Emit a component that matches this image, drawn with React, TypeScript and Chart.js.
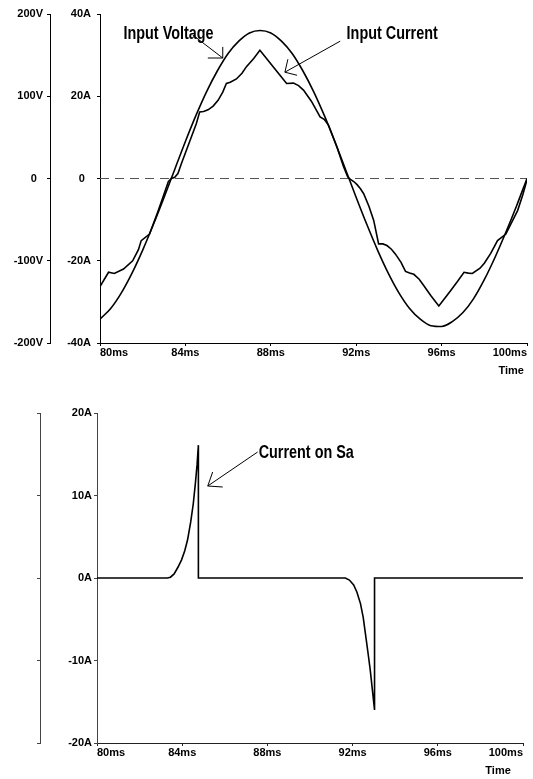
import React, { useEffect, useRef } from 'react';
import { Chart, registerables } from 'chart.js';

Chart.register(...registerables);

const SANS = '"Liberation Sans", Arial, Helvetica, sans-serif';

// ---------- top panel data ----------
const timeTicks = [80, 84, 88, 92, 96, 100];
const voltageTicks = [-200, -100, 0, 100, 200];
const voltageTickLabels = ['-200V', '-100V', '0  ', '100V', '200V'];
const currentTicks = [-40, -20, 0, 20, 40];
const currentTickLabels = ['-40A', '-20A', '0  ', '20A', '40A'];

const voltageTimes = [80, 80.5, 81, 81.5, 82, 82.5, 83, 83.5, 84, 84.5, 85, 85.5, 86, 86.5, 87, 87.5, 88, 88.5, 89, 89.5, 90, 90.5, 91, 91.5, 92, 92.5, 93, 93.5, 94, 94.5, 95, 95.5, 96, 96.5, 97, 97.5, 98, 98.5, 99, 99.5, 100];
const voltageValues = [-171, -158, -139, -115, -87, -56, -23, 11, 45, 77, 106, 131, 152, 167, 177, 180, 177, 167, 152, 131, 106, 77, 45, 11, -23, -56, -87, -115, -139, -158, -171, -179, -180, -174, -163, -146, -123, -96, -66, -34, 0];

const currentTimes = [80.0, 80.4, 80.67, 81.1, 81.53, 81.8, 81.93, 82.32, 82.7, 83.0, 83.2, 83.34, 83.5, 83.65, 83.81, 84.2, 84.51, 84.67, 84.85, 85.06, 85.3, 85.53, 85.75, 85.92, 86.1, 86.39, 86.65, 86.86, 87.2, 87.49, 87.8, 88.11, 88.45, 88.74, 89.06, 89.3, 89.53, 89.9, 90.31, 90.5, 90.7, 91.1, 91.4, 91.6, 91.75, 91.9, 92.04, 92.2, 92.35, 92.6, 92.82, 93.05, 93.25, 93.44, 93.65, 93.84, 94.1, 94.31, 94.5, 94.7, 94.95, 95.17, 95.5, 95.87, 96.15, 96.42, 96.75, 97.05, 97.25, 97.44, 97.8, 98.0, 98.3, 98.62, 99.01, 99.3, 99.56, 99.8, 100.0];
const currentValues = [-26.3, -22.8, -23.1, -22.0, -20.0, -17.3, -15.1, -13.5, -8.2, -3.8, -0.8, 0.0, 0.3, 1.2, 3.6, 9.0, 13.3, 16.2, 16.3, 16.7, 17.6, 19.0, 21.0, 23.1, 23.4, 24.2, 25.6, 27.2, 29.2, 31.2, 29.2, 27.2, 25.0, 23.1, 23.2, 22.6, 21.5, 18.8, 15.0, 14.4, 13.0, 7.6, 3.0, 0.4, -0.3, -0.8, -1.5, -2.5, -3.7, -6.8, -10.2, -15.9, -15.9, -16.3, -17.2, -18.4, -20.4, -22.6, -23.0, -23.3, -24.5, -26.1, -28.5, -31.0, -29.1, -27.3, -25.0, -22.8, -23.0, -23.1, -21.8, -20.6, -18.2, -15.1, -13.5, -10.5, -7.8, -4.0, -0.3];

const zeroTimes = [80, 100];
const zeroValues = [0, 0];

// ---------- bottom panel data ----------
const saTicks = [-20, -10, 0, 10, 20];
const saTickLabels = ['-20A', '-10A', '0A', '10A', '20A'];
const saTimes = [80, 83.3, 83.45, 83.62, 83.8, 83.97, 84.12, 84.25, 84.4, 84.52, 84.62, 84.7, 84.76, 84.76, 91.66, 91.85, 92.05, 92.2, 92.37, 92.5, 92.6, 92.72, 92.83, 92.93, 93.03, 93.03, 100];
const saValues = [0, 0, 0.1, 0.5, 1.3, 2.2, 3.3, 4.6, 6.8, 9.0, 11.5, 13.8, 16.1, 0, 0, -0.25, -0.85, -1.7, -3.1, -4.8, -6.7, -9.0, -11.2, -13.6, -16.0, 0, 0];

type Pt = [number, number];
type Note = { text: string; at: Pt; axis: string; from: Pt; tip: Pt; head: Pt[] };

const topNotes: Note[] = [
  { text: 'Input Voltage', at: [81.1, 33.8], axis: 'i', from: [84.34, 34.9], tip: [85.75, 29.3], head: [[85.75, 32.0], [85.05, 29.3]] },
  { text: 'Input Current', at: [91.55, 33.8], axis: 'i', from: [91.25, 33.4], tip: [88.66, 25.85], head: [[88.8, 29.0], [89.23, 25.1]] },
];
const bottomNotes: Note[] = [
  { text: 'Current on Sa', at: [87.59, 14.5], axis: 'y', from: [87.54, 15.27], tip: [85.2, 11.15], head: [[85.43, 12.85], [85.9, 11.03]] },
];

const zip = (xs: number[], ys: number[]) => xs.map((x, i) => ({ x, y: ys[i] }));

function notesPlugin(notes: Note[]) {
  return {
    id: 'notes',
    afterDatasetsDraw(chart: any) {
      const ctx = chart.ctx;
      const xs = chart.scales.x;
      ctx.save();
      for (const n of notes) {
        const ys = chart.scales[n.axis];
        const px = (p: Pt) => [xs.getPixelForValue(p[0]), ys.getPixelForValue(p[1])];
        const [tx, ty] = px(n.at);
        ctx.save();
        ctx.translate(tx, ty);
        ctx.scale(0.8, 1);
        ctx.fillStyle = '#000';
        ctx.font = `bold 18px ${SANS}`;
        ctx.textAlign = 'left';
        ctx.textBaseline = 'alphabetic';
        ctx.fillText(n.text, 0, 0);
        ctx.restore();
        ctx.strokeStyle = '#000';
        ctx.lineWidth = 1;
        const [fx, fy] = px(n.from);
        const [ax, ay] = px(n.tip);
        ctx.beginPath();
        ctx.moveTo(fx, fy);
        ctx.lineTo(ax, ay);
        for (const h of n.head) {
          const [hx, hy] = px(h);
          ctx.moveTo(ax, ay);
          ctx.lineTo(hx, hy);
        }
        ctx.stroke();
      }
      ctx.restore();
    },
  };
}

const yFont = { family: SANS, size: 11, weight: 'bold' };
const xFont = { family: SANS, size: 11, weight: 'bold' };

function setTicks(values: number[]) {
  return (s: any) => {
    s.ticks = values.map((v) => ({ value: v }));
  };
}

function xScale(height: number, axisColor: string, titlePad: number, title: string) {
  return {
    type: 'linear',
    min: 80,
    max: 100,
    afterBuildTicks: setTicks(timeTicks),
    afterFit: (s: any) => {
      s.height = height;
      s.paddingLeft = 0;
      s.paddingRight = 0;
    },
    ticks: {
      autoSkip: false,
      maxRotation: 0,
      align: 'inner',
      padding: 0,
      font: xFont,
      color: '#000',
      callback: (v: any) => `${v}ms`,
    },
    grid: { display: true, drawOnChartArea: false, drawTicks: true, tickLength: 3, color: axisColor, lineWidth: 1 },
    border: { display: true, color: axisColor, width: 1 },
    title: { display: true, text: title, align: 'end', font: xFont, color: '#000', padding: { top: 0, bottom: titlePad } },
  };
}

function yScale(min: number, max: number, ticks: number[], labels: string[] | null, width: number, weight: number, pad: number, axisColor: string) {
  return {
    type: 'linear',
    position: 'left',
    weight,
    min,
    max,
    afterBuildTicks: setTicks(ticks),
    afterFit: (s: any) => {
      s.width = width;
      s.paddingTop = 0;
      s.paddingBottom = 0;
    },
    ticks: {
      display: labels !== null,
      autoSkip: false,
      padding: pad,
      font: yFont,
      color: '#000',
      callback: (v: any) => (labels ? labels[ticks.indexOf(Number(v))] : ''),
    },
    grid: { display: true, drawOnChartArea: false, drawTicks: true, tickLength: 3, color: axisColor, lineWidth: 1 },
    border: { display: true, color: axisColor, width: 1 },
  };
}

const lineStyle = { borderColor: '#000', borderWidth: 1.6, pointRadius: 0, fill: false };

export default function App() {
  const topRef = useRef<HTMLCanvasElement>(null);
  const botRef = useRef<HTMLCanvasElement>(null);

  useEffect(() => {
    const top = new Chart(topRef.current as HTMLCanvasElement, {
      type: 'line',
      data: {
        datasets: [
          { ...lineStyle, data: zip(voltageTimes, voltageValues), yAxisID: 'v', cubicInterpolationMode: 'monotone' },
          { ...lineStyle, data: zip(currentTimes, currentValues), yAxisID: 'i', tension: 0 },
          { data: zip(zeroTimes, zeroValues), yAxisID: 'i', borderColor: '#555', borderWidth: 1.2, borderDash: [9, 6], pointRadius: 0, tension: 0 },
        ],
      },
      options: {
        animation: false,
        responsive: false,
        maintainAspectRatio: false,
        layout: { padding: { top: 14, right: 6, bottom: 0, left: 0 } },
        plugins: { legend: { display: false }, tooltip: { enabled: false } },
        scales: {
          x: xScale(37, '#000', 2.6, 'Time '),
          v: yScale(-200, 200, voltageTicks, voltageTickLabels, 50, 10, 4, '#000'),
          i: yScale(-40, 40, currentTicks, currentTickLabels, 50, 0, 6, '#000'),
        },
      } as any,
      plugins: [notesPlugin(topNotes)],
    } as any);

    const bot = new Chart(botRef.current as HTMLCanvasElement, {
      type: 'line',
      data: {
        datasets: [{ ...lineStyle, data: zip(saTimes, saValues), yAxisID: 'y', tension: 0 }],
      },
      options: {
        animation: false,
        responsive: false,
        maintainAspectRatio: false,
        layout: { padding: { top: 33, right: 10, bottom: 0, left: 0 } },
        plugins: { legend: { display: false }, tooltip: { enabled: false } },
        scales: {
          x: xScale(36, '#222', 1, 'Time    '),
          y2: yScale(-20, 20, saTicks, null, 40, 10, 2, '#444'),
          y: yScale(-20, 20, saTicks, saTickLabels, 57, 0, 2, '#444'),
        },
      } as any,
      plugins: [notesPlugin(bottomNotes)],
    } as any);

    return () => {
      top.destroy();
      bot.destroy();
    };
  }, []);

  return (
    <div style={{ position: 'absolute', left: 0, top: 0, width: 533, height: 779, background: '#fff' }}>
      <canvas ref={topRef} width={533} height={380} style={{ position: 'absolute', left: 0, top: 0, width: 533, height: 380 }} />
      <canvas ref={botRef} width={533} height={399} style={{ position: 'absolute', left: 0, top: 380, width: 533, height: 399 }} />
    </div>
  );
}
